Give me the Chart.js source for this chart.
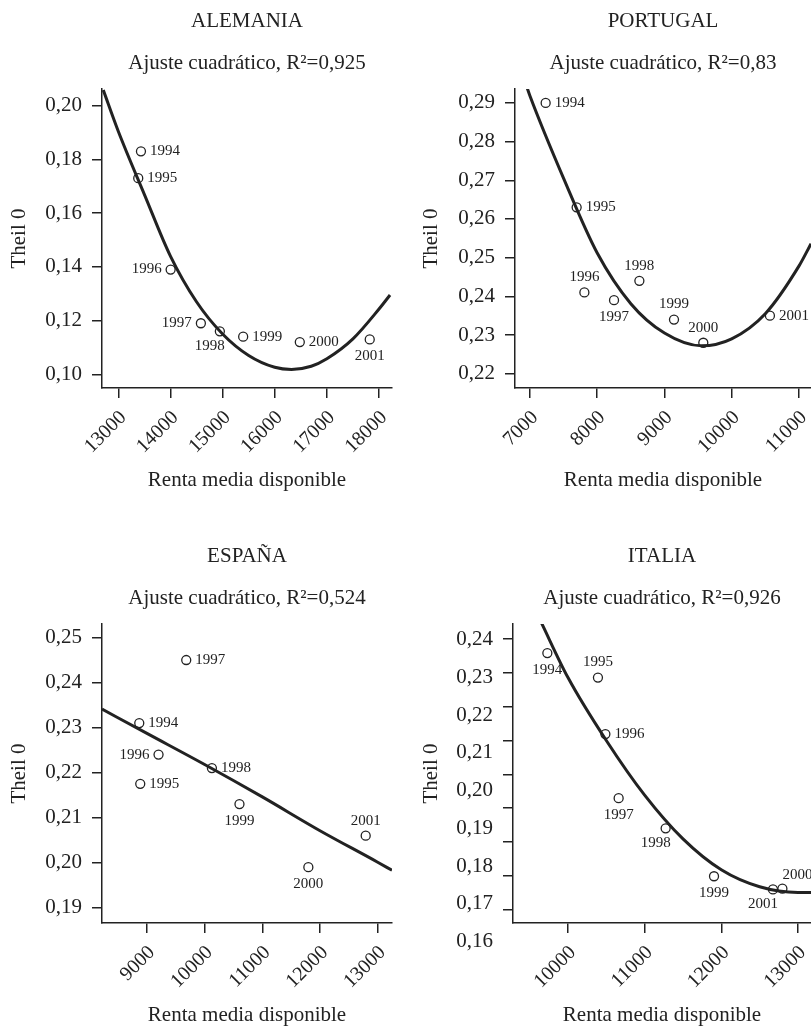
<!DOCTYPE html>
<html>
<head>
<meta charset="utf-8">
<script src="https://cdn.jsdelivr.net/npm/chart.js@4.4.1/dist/chart.umd.min.js"></script>
<style>
  html, body { margin: 0; padding: 0; background: #fff; overflow: hidden; }
  #wrap { position: relative; width: 811px; height: 1027px; overflow: hidden; }
  .panel { position: absolute; }
</style>
</head>
<body>
<div id="wrap">
  <div class="panel" style="left:0;top:0;width:405px;height:535px"><canvas id="deu"></canvas></div>
  <div class="panel" style="left:405px;top:0;width:420px;height:535px"><canvas id="prt"></canvas></div>
  <div class="panel" style="left:0;top:535px;width:405px;height:535px"><canvas id="esp"></canvas></div>
  <div class="panel" style="left:405px;top:535px;width:420px;height:535px"><canvas id="ita"></canvas></div>
</div>
<script>
var years = ['1994', '1995', '1996', '1997', '1998', '1999', '2000', '2001'];

// ALEMANIA
var deuRenta = [13435, 13383, 14004, 14584, 14948, 15395, 16481, 17822];
var deuTheil = [0.183, 0.173, 0.139, 0.119, 0.116, 0.114, 0.112, 0.113];
var deuFitX = [12713, 13000, 13500, 14000, 14500, 15000, 15500, 16000, 16322, 16700, 17000, 17500, 18000, 18211];
var deuFitY = [0.2058, 0.1905, 0.1670, 0.1440, 0.1270, 0.1150, 0.1070, 0.1026, 0.1018, 0.1030, 0.1058, 0.1132, 0.1243, 0.1295];
var deuXTicks = [13000, 14000, 15000, 16000, 17000, 18000];
var deuYTicks = [0.10, 0.12, 0.14, 0.16, 0.18, 0.20];

// PORTUGAL
var prtRenta = [7233, 7694, 7809, 8250, 8627, 9142, 9578, 10569];
var prtTheil = [0.290, 0.263, 0.241, 0.239, 0.244, 0.234, 0.228, 0.235];
var prtFitX = [6936, 7000, 7500, 8000, 8500, 9000, 9550, 10000, 10500, 11000, 11180];
var prtFitY = [0.2950, 0.2918, 0.2705, 0.2512, 0.2381, 0.2305, 0.2272, 0.2290, 0.2355, 0.2478, 0.2536];
var prtXTicks = [7000, 8000, 9000, 10000, 11000];
var prtYTicks = [0.22, 0.23, 0.24, 0.25, 0.26, 0.27, 0.28, 0.29];

// ESPAÑA
var espRenta = [8867, 8884, 9201, 9681, 10126, 10604, 11798, 12792];
var espTheil = [0.231, 0.2175, 0.224, 0.245, 0.221, 0.213, 0.199, 0.206];
var espFitX = [8221, 9000, 10000, 11000, 12000, 13000, 13248];
var espFitY = [0.2341, 0.2287, 0.2218, 0.2146, 0.2071, 0.2001, 0.1983];
var espXTicks = [9000, 10000, 11000, 12000, 13000];
var espYTicks = [0.19, 0.20, 0.21, 0.22, 0.23, 0.24, 0.25];

// ITALIA
var itaRenta = [9731, 10391, 10488, 10661, 11274, 11905, 12797, 12674];
var itaTheil = [0.2365, 0.230, 0.215, 0.198, 0.190, 0.1773, 0.174, 0.1738];
var itaFitX = [9640, 10000, 10500, 11000, 11500, 12000, 12500, 13000, 13170];
var itaFitY = [0.2451, 0.2300, 0.2133, 0.1988, 0.1872, 0.1790, 0.1745, 0.1730, 0.1730];
var itaXTicks = [10000, 11000, 12000, 13000];
var itaYTicks = [0.16, 0.17, 0.18, 0.19, 0.20, 0.21, 0.22, 0.23, 0.24];
var itaYLabels = [0.16, 0.17, 0.18, 0.19, 0.20, 0.21, 0.22, 0.23, 0.24];

var ink = '#222';
var serif = '"Liberation Serif", "Times New Roman", serif';
Chart.defaults.font.family = serif;
Chart.defaults.color = ink;

function fmtTheil(v) { return v.toFixed(2).replace('.', ','); }

// year next to each circle: r / l = right / left, a / b = above / below
function yearLabels(texts, pos) {
  return {
    id: 'yearLabels',
    afterDatasetsDraw: function (chart) {
      var ctx = chart.ctx;
      ctx.save();
      ctx.font = '15px ' + serif;
      ctx.fillStyle = ink;
      ctx.textBaseline = 'middle';
      chart.getDatasetMeta(1).data.forEach(function (pt, i) {
        var p = pos[i], x = pt.x, y = pt.y;
        if (p === 'r') { ctx.textAlign = 'left'; x += 9; }
        else if (p === 'l') { ctx.textAlign = 'right'; x -= 9; }
        else if (p === 'a') { ctx.textAlign = 'center'; y -= 15; }
        else if (p === 'ar') { ctx.textAlign = 'center'; x += 15; y -= 14; }
        else if (p === 'b') { ctx.textAlign = 'center'; y += 17; }
        else if (p === 'bl') { ctx.textAlign = 'center'; x -= 10; y += 15; }
        ctx.fillText(texts[i], x, y);
      });
      ctx.restore();
    }
  };
}

// Italia: the printed labels do not sit on their tick marks
function driftLabels(values) {
  return {
    id: 'driftLabels',
    afterDraw: function (chart) {
      var ya = chart.scales.y, yl = chart.scales.yl, ctx = chart.ctx;
      ctx.save();
      ctx.font = '21px ' + serif;
      ctx.fillStyle = ink;
      ctx.textAlign = 'right';
      ctx.textBaseline = 'middle';
      values.forEach(function (v) {
        ctx.fillText(fmtTheil(v), ya.right - 20, yl.getPixelForValue(v));
      });
      ctx.restore();
    }
  };
}

function makePanel(id, c) {
  var pts = c.renta.map(function (v, i) { return {x: v, y: c.theil[i]}; });
  var fit = c.fitX.map(function (v, i) { return {x: v, y: c.fitY[i]}; });
  var dataAxis = c.labelRange ? 'yl' : 'y';

  var scales = {
    x: {
      type: 'linear', min: c.xRange[0], max: c.xRange[1],
      afterBuildTicks: function (s) { s.ticks = c.xTicks.map(function (v) { return {value: v}; }); },
      afterFit: function (s) { s.height = 147; },
      ticks: { autoSkip: false, minRotation: 45, maxRotation: 45, padding: 8, labelOffset: 5, color: ink,
               font: {size: 20}, callback: function (v) { return String(v); } },
      grid: { drawOnChartArea: false, drawTicks: true, tickLength: 10, color: ink, lineWidth: 1.5 },
      border: { display: true, color: ink, width: 1.5 },
      title: { display: true, text: 'Renta media disponible', color: ink, font: {size: 21},
               padding: {top: 0, bottom: 42} }
    },
    y: {
      type: 'linear', position: 'left', min: c.yRange[0], max: c.yRange[1],
      afterBuildTicks: function (s) { s.ticks = c.yTicks.map(function (v) { return {value: v}; }); },
      afterFit: function (s) { s.width = c.yWidth; },
      ticks: { display: !c.labelRange, padding: 10, color: ink, font: {size: 21}, callback: fmtTheil },
      grid: { drawOnChartArea: false, drawTicks: true, tickLength: 10, color: ink, lineWidth: 1.5 },
      border: { display: true, color: ink, width: 1.5 },
      title: { display: true, text: 'Theil 0', color: ink, font: {size: 21},
               padding: {top: c.yTitlePad, bottom: 0} }
    }
  };
  if (c.labelRange) {
    scales.yl = { type: 'linear', axis: 'y', display: false, min: c.labelRange[0], max: c.labelRange[1] };
  }

  var plugins = [yearLabels(years, c.pos)];
  if (c.labelRange) plugins.push(driftLabels(c.yLabels));

  return new Chart(document.getElementById(id), {
    type: 'scatter',
    data: {
      datasets: [
        { data: fit, yAxisID: dataAxis, showLine: true, borderColor: ink, borderWidth: 3,
          pointRadius: 0, cubicInterpolationMode: 'monotone', fill: false },
        { data: pts, yAxisID: dataAxis, showLine: false, pointRadius: 4.5, pointBorderWidth: 1.3,
          pointBorderColor: ink, pointBackgroundColor: 'rgba(0,0,0,0)' }
      ]
    },
    options: {
      responsive: true,
      maintainAspectRatio: false,
      animation: false,
      events: [],
      layout: { padding: {left: 0, top: 0, bottom: 0, right: c.padRight} },
      scales: scales,
      plugins: {
        legend: { display: false },
        tooltip: { enabled: false },
        title: { display: true, text: c.name, fullSize: false, color: ink,
                 font: {size: 21, weight: 'normal'}, padding: {top: 9, bottom: 17} },
        subtitle: { display: true, text: 'Ajuste cuadrático, R²=' + c.r2, fullSize: false, color: ink,
                    font: {size: 21, weight: 'normal'}, padding: {top: 0, bottom: 12.6} }
      }
    },
    plugins: plugins
  });
}

makePanel('deu', {
  name: 'ALEMANIA', r2: '0,925', renta: deuRenta, theil: deuTheil, fitX: deuFitX, fitY: deuFitY,
  xTicks: deuXTicks, yTicks: deuYTicks, xRange: [12688, 18249], yRange: [0.0949, 0.2062],
  yWidth: 102, yTitlePad: 6.5, padRight: 13,
  pos: ['r', 'r', 'l', 'l', 'bl', 'r', 'r', 'b']
});

makePanel('prt', {
  name: 'PORTUGAL', r2: '0,83', renta: prtRenta, theil: prtTheil, fitX: prtFitX, fitY: prtFitY,
  xTicks: prtXTicks, yTicks: prtYTicks, xRange: [6777, 11180], yRange: [0.2163, 0.2936],
  yWidth: 110, yTitlePad: 13.5, padRight: 14,
  pos: ['r', 'r', 'a', 'b', 'a', 'a', 'a', 'r']
});

makePanel('esp', {
  name: 'ESPAÑA', r2: '0,524', renta: espRenta, theil: espTheil, fitX: espFitX, fitY: espFitY,
  xTicks: espXTicks, yTicks: espYTicks, xRange: [8221, 13248], yRange: [0.1866, 0.2530],
  yWidth: 102, yTitlePad: 6.5, padRight: 13,
  pos: ['r', 'r', 'l', 'r', 'r', 'b', 'b', 'a']
});

makePanel('ita', {
  name: 'ITALIA', r2: '0,926', renta: itaRenta, theil: itaTheil, fitX: itaFitX, fitY: itaFitY,
  xTicks: itaXTicks, yTicks: itaYTicks, xRange: [9283, 13170], yRange: [0.1560, 0.2445],
  labelRange: [0.1649, 0.2442], yLabels: itaYLabels,
  yWidth: 108, yTitlePad: 13.5, padRight: 14,
  pos: ['b', 'a', 'r', 'b', 'bl', 'b', 'ar', 'bl']
});
</script>
</body>
</html>
